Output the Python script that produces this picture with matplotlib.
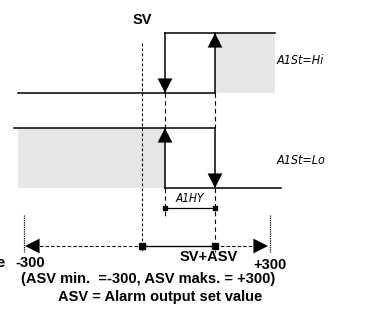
import matplotlib
matplotlib.use("Agg")
import matplotlib.pyplot as plt

# key x positions (pixels of the 365x316 drawing)
x_left = 18
x_sv = 142
x_hy_lo = 165
x_hy_hi = 215
x_end = 275
x_min = 24
x_max = 270

# key y levels
y_hi_on = 33
y_hi_off = 93
y_lo_on = 128
y_lo_off = 188
y_hy = 208
y_axis = 246

labels_bold = ["SV", "-300", "SV+ASV", "+300",
               "(ASV min.  =-300, ASV maks. = +300)",
               "ASV = Alarm output set value"]
mode_labels = ["A1St=Hi", "A1St=Lo", "A1HY"]

plt.rcParams['font.family'] = ['Liberation Sans', 'DejaVu Sans']

fig = plt.figure(figsize=(3.65, 3.16), dpi=100)
ax = fig.add_axes([0, 0, 1, 1])
ax.set_xlim(0, 365)
ax.set_ylim(316, 0)
ax.axis('off')

grey = '#e6e6e6'
lw = 1.1

def arrow(x, y0, y1, horiz=False):
    # arrowhead only, tip at y1
    if horiz:
        xy, xyt = (y1, x), (y0, x)
    else:
        xy, xyt = (x, y1), (x, y0)
    ax.annotate("", xy=xy, xytext=xyt,
                arrowprops=dict(arrowstyle='-|>,head_length=0.75,head_width=0.38',
                                mutation_scale=14, lw=0, color='black',
                                shrinkA=0, shrinkB=0))

# grey areas
ax.fill_between([x_hy_hi, x_end], y_hi_on, y_hi_off, color=grey, lw=0)
ax.fill_between([x_left, x_hy_lo], y_lo_on, y_lo_off, color=grey, lw=0)

# Hi curve
ax.plot([x_hy_lo, x_end], [y_hi_on, y_hi_on], color='black', lw=lw)
ax.plot([x_hy_lo, x_hy_lo], [y_hi_on, y_hi_off], color='black', lw=lw)
ax.plot([x_left, x_hy_hi], [y_hi_off, y_hi_off], color='black', lw=lw)
ax.plot([x_hy_hi, x_hy_hi], [y_hi_off, y_hi_on], color='black', lw=lw)
arrow(x_hy_lo, y_hi_off - 16, y_hi_off)
arrow(x_hy_hi, y_hi_on + 16, y_hi_on)

# Lo curve
ax.plot([x_left - 4, x_hy_hi], [y_lo_on, y_lo_on], color='black', lw=lw)
ax.plot([x_hy_lo, x_hy_lo], [y_lo_off, y_lo_on], color='black', lw=lw)
ax.plot([x_hy_hi, x_hy_hi], [y_lo_on, y_lo_off], color='black', lw=lw)
ax.plot([x_hy_lo, x_end + 6], [y_lo_off, y_lo_off], color='black', lw=lw)
arrow(x_hy_lo, y_lo_on + 16, y_lo_on)
arrow(x_hy_hi, y_lo_off - 16, y_lo_off)

# dashed guides
dash = (0, (4, 3))
ax.plot([x_sv, x_sv], [43, 252], color='black', lw=0.8, ls=(0, (2.5, 2)))
ax.plot([x_hy_lo, x_hy_lo], [y_hi_off, y_lo_on], color='black', lw=0.8, ls=dash)
ax.plot([x_hy_hi, x_hy_hi], [y_hi_off, y_lo_on], color='black', lw=0.8, ls=dash)
ax.plot([x_hy_lo, x_hy_lo], [y_lo_off, 218], color='black', lw=0.8, ls=dash)
ax.plot([x_hy_hi, x_hy_hi], [y_lo_off, 252], color='black', lw=0.8, ls=dash)

# hysteresis bracket
ax.plot([x_hy_lo, x_hy_hi], [y_hy, y_hy], color='black', lw=0.9,
        marker='s', ms=3.5)

# range axis
ax.plot([x_min + 10, x_sv], [y_axis, y_axis], color='black', lw=0.8, ls=(0, (3, 2)))
ax.plot([x_hy_hi, x_max - 10], [y_axis, y_axis], color='black', lw=0.8, ls=(0, (3, 2)))
ax.plot([x_sv, x_hy_hi], [y_axis, y_axis], color='black', lw=1.0,
        marker='s', ms=4.5)
arrow(y_axis, x_min + 16, x_min + 1, horiz=True)
arrow(y_axis, x_max - 18, x_max - 2, horiz=True)
ax.plot([x_min, x_min], [215, 252], color='black', lw=0.9, ls=(0, (1, 0.8)))
ax.plot([x_max, x_max], [215, 252], color='black', lw=0.9, ls=(0, (1, 0.8)))

# texts
bold = dict(fontweight='bold', fontsize=10.5, ha='center', va='center')
ax.text(x_sv, 20, labels_bold[0], **bold)
ax.text(30, 263, labels_bold[1], **bold)
ax.text(209, 257, labels_bold[2], **bold)
ax.text(270, 265, labels_bold[3], **bold)
ax.text(148, 279, labels_bold[4], **bold)
ax.text(160, 297, labels_bold[5], **bold)
ax.text(-4, 263, "e", fontweight='bold', fontsize=10.5, ha='left', va='center')

seg = dict(fontstyle='italic', fontsize=9, ha='left', va='center',
           family=['DejaVu Sans'], fontstretch='condensed')
ax.text(277, 60, mode_labels[0], **seg)
ax.text(277, 160, mode_labels[1], **seg)
ax.text(190, 198, mode_labels[2], fontstyle='italic', fontsize=8.5,
        ha='center', va='center', family=['DejaVu Sans'],
        fontstretch='condensed')

fig.savefig("out.png", dpi=100)
